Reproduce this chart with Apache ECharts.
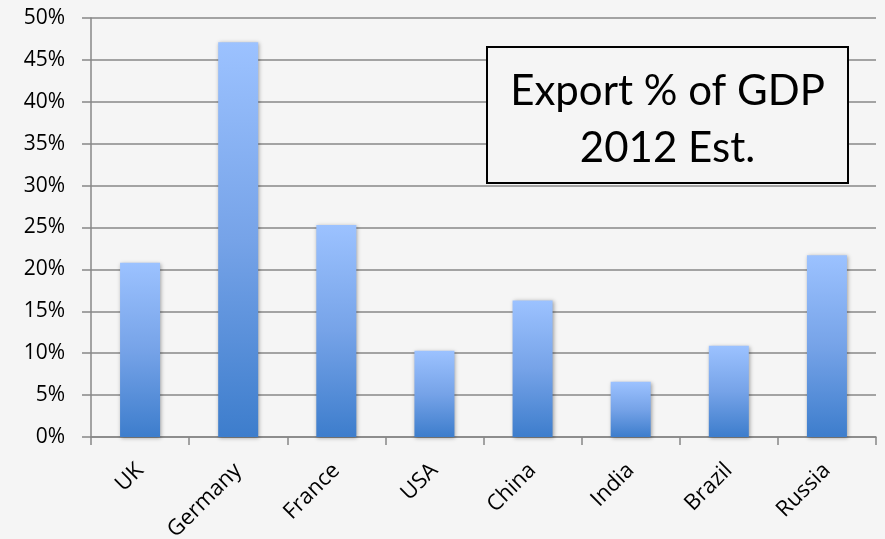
<!DOCTYPE html>
<html>
<head>
<meta charset="utf-8">
<script src="https://cdn.jsdelivr.net/npm/echarts@6/dist/echarts.min.js"></script>
<style>
html,body{margin:0;padding:0;background:#f5f5f5;}
#c{width:885px;height:539px;}
</style>
</head>
<body>
<div id="c"></div>
<script>
const categories = ['UK', 'Germany', 'France', 'USA', 'China', 'India', 'Brazil', 'Russia'];
const exportPct = [20.8, 47.1, 25.3, 10.3, 16.3, 6.6, 10.9, 21.7];
const titleLines = ['Export % of GDP', '2012 Est.'];

const chart = echarts.init(document.getElementById('c'));
const axisGray = '#878787';
chart.setOption({
  backgroundColor: '#f5f5f5',
  animation: false,
  grid: {left: 91, right: 9, top: 18, bottom: 102, containLabel: false, outerBoundsMode: 'none'},
  xAxis: {
    type: 'category',
    data: categories,
    axisLine: {lineStyle: {color: axisGray, width: 1.5}},
    axisTick: {show: true, length: 8, lineStyle: {color: axisGray, width: 1.5}},
    axisLabel: {
      rotate: 45, margin: 30, color: '#000',
      fontFamily: 'Open Sans', fontSize: 22
    }
  },
  yAxis: {
    type: 'value', min: 0, max: 50, interval: 5,
    axisLine: {show: true, lineStyle: {color: axisGray, width: 1.5}},
    axisTick: {show: true, length: 9, lineStyle: {color: axisGray, width: 1.5}},
    splitLine: {lineStyle: {color: axisGray, width: 1.5}},
    axisLabel: {
      formatter: '{value}%', margin: 26, color: '#000',
      fontFamily: 'Open Sans', fontSize: 21
    }
  },
  graphic: [
    {
      type: 'rect', z: 100,
      shape: {x: 487, y: 47, width: 361, height: 136},
      style: {fill: '#f5f5f5', stroke: '#000', lineWidth: 2}
    },
    {
      type: 'text', z: 101, x: 667.5, y: 63,
      style: {
        text: titleLines.join('\n'),
        fontFamily: 'Lato', fontSize: 42, lineHeight: 57,
        fill: '#000', align: 'center', verticalAlign: 'top'
      }
    }
  ],
  series: [{
    type: 'bar',
    data: exportPct,
    barWidth: 40,
    itemStyle: {
      color: new echarts.graphic.LinearGradient(0, 0, 0, 1, [
        {offset: 0, color: '#9cc2ff'},
        {offset: 0.5, color: '#76a3e8'},
        {offset: 1, color: '#3d7dcc'}
      ]),
      shadowColor: 'rgba(0,0,0,0.35)',
      shadowBlur: 4, shadowOffsetX: 1, shadowOffsetY: 1
    }
  }]
});
</script>
</body>
</html>
